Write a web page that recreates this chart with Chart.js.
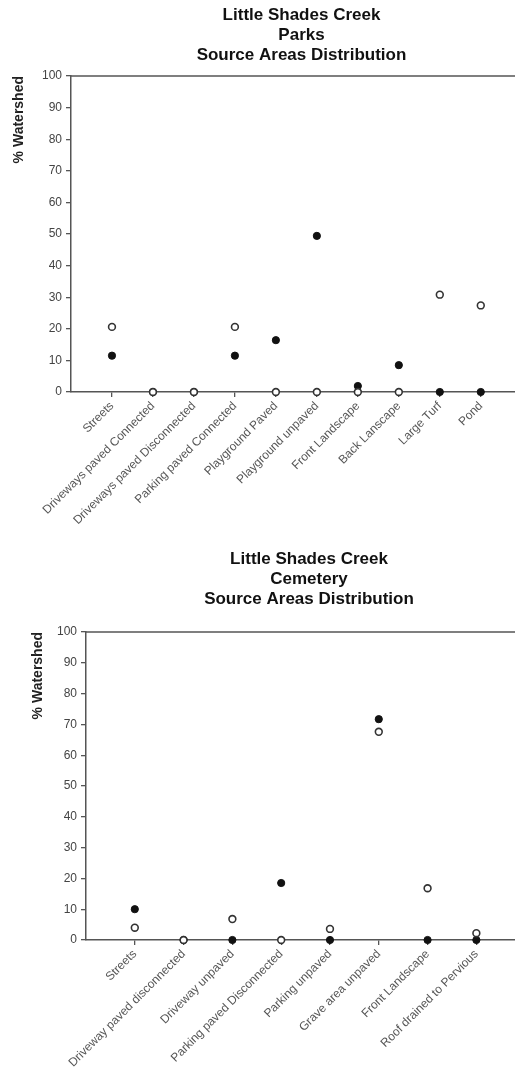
<!DOCTYPE html>
<html><head><meta charset="utf-8">
<script src="https://cdn.jsdelivr.net/npm/chart.js@4"></script>
<style>
html,body{margin:0;padding:0;background:#fff;overflow:hidden;width:515px;height:1072px;position:relative}
.wrap{position:absolute;left:0;width:532px}
canvas{display:block}
</style></head><body>
<div class="wrap" style="top:0;height:540px"><canvas id="c1" width="532" height="540"></canvas></div>
<div class="wrap" style="top:540px;height:532px"><canvas id="c2" width="532" height="532"></canvas></div>
<script>
// ---- data ----
const parksTitle = ['Little Shades Creek', 'Parks', 'Source Areas Distribution'];
const parksCategories = ['Streets', 'Driveways paved Connected', 'Driveways paved Disconnected',
  'Parking paved Connected', 'Playground Paved', 'Playground unpaved', 'Front Landscape',
  'Back Lanscape', 'Large Turf', 'Pond'];
const parksFilled = [11.5, 0, 0, 11.5, 16.4, 49.4, 1.9, 8.5, 0, 0];
const parksOpen   = [20.6, 0, 0, 20.6, 0, 0, 0, 0, 30.8, 27.4];

const cemeteryTitle = ['Little Shades Creek', 'Cemetery', 'Source Areas Distribution'];
const cemeteryCategories = ['Streets', 'Driveway paved disconnected', 'Driveway unpaved',
  'Parking paved Disconnected', 'Parking unpaved', 'Grave area unpaved', 'Front Landscape',
  'Roof drained to Pervious'];
const cemeteryFilled = [10.0, 0, 0, 18.5, 0, 71.7, 0, 0];
const cemeteryOpen   = [4.0, 0, 6.8, 0, 3.6, 67.6, 16.8, 2.2];

const yTicks = [0, 10, 20, 30, 40, 50, 60, 70, 80, 90, 100];
const yTitle = '% Watershed';

// ---- chart ----
const FONT = "'Liberation Sans', Arial, sans-serif";
const AXIS = '#555';

const topFrame = {
  id: 'topFrame',
  afterDraw(chart) {
    const {ctx, chartArea: a} = chart;
    ctx.save();
    ctx.strokeStyle = AXIS; ctx.lineWidth = 1.5;
    ctx.beginPath(); ctx.moveTo(a.left, a.top); ctx.lineTo(a.right, a.top); ctx.stroke();
    ctx.restore();
  }
};

function makeChart(id, title, cats, filled, open, L) {
  const toPts = arr => arr.map((v, i) => ({x: i, y: v}));
  return new Chart(document.getElementById(id), {
    type: 'scatter',
    data: {
      datasets: [
        {label: 'filled', data: toPts(filled), order: 1, clip: false,
         pointRadius: 3.6, pointHoverRadius: 3.6, backgroundColor: '#111', borderColor: '#111', borderWidth: 1},
        {label: 'open', data: toPts(open), order: 0, clip: false,
         pointRadius: 3.4, pointHoverRadius: 3.4, backgroundColor: '#fff', borderColor: '#333', borderWidth: 1.6}
      ]
    },
    options: {
      responsive: false,
      animation: false,
      layout: {padding: 0, autoPadding: false},
      plugins: {
        legend: {display: false},
        tooltip: {enabled: false},
        title: {
          display: true, text: title, fullSize: false,
          color: '#111', font: {family: FONT, size: 17, weight: 'bold', lineHeight: 20 / 17},
          padding: L.titlePad
        }
      },
      scales: {
        x: {
          type: 'linear', min: -1, max: L.xMax,
          afterBuildTicks: s => { s.ticks = cats.map((c, i) => ({value: i})); },
          afterFit: s => { s.height = L.xH; },
          ticks: {
            autoSkip: false, minRotation: 45, maxRotation: 45, padding: 2,
            color: '#555', font: {family: FONT, size: 12},
            callback: v => cats[v]
          },
          grid: {drawOnChartArea: false, drawTicks: true, tickLength: 5, color: AXIS, lineWidth: 1.3},
          border: {display: true, color: AXIS, width: 1.5}
        },
        y: {
          min: 0, max: 100,
          afterBuildTicks: s => { s.ticks = yTicks.map(v => ({value: v})); },
          afterFit: s => { s.width = L.yW; },
          ticks: {padding: 4, color: '#444', font: {family: FONT, size: 12}},
          grid: {drawOnChartArea: false, drawTicks: true, tickLength: 5, color: AXIS, lineWidth: 1.3},
          border: {display: true, color: AXIS, width: 1.5},
          title: {
            display: true, text: yTitle, align: 'end', color: '#222',
            font: {family: FONT, size: 14, weight: 'bold'},
            padding: {top: L.yTitlePad, bottom: 0}
          }
        }
      }
    },
    plugins: [topFrame]
  });
}

makeChart('c1', parksTitle, parksCategories, parksFilled, parksOpen,
  {xMax: 10.25, xH: 148, yW: 71, yTitlePad: 11, titlePad: {top: 5, bottom: 11}});
makeChart('c2', cemeteryTitle, cemeteryCategories, cemeteryFilled, cemeteryOpen,
  {xMax: 8.14, xH: 132, yW: 86, yTitlePad: 30, titlePad: {top: 9, bottom: 23}});
</script>
</body></html>
